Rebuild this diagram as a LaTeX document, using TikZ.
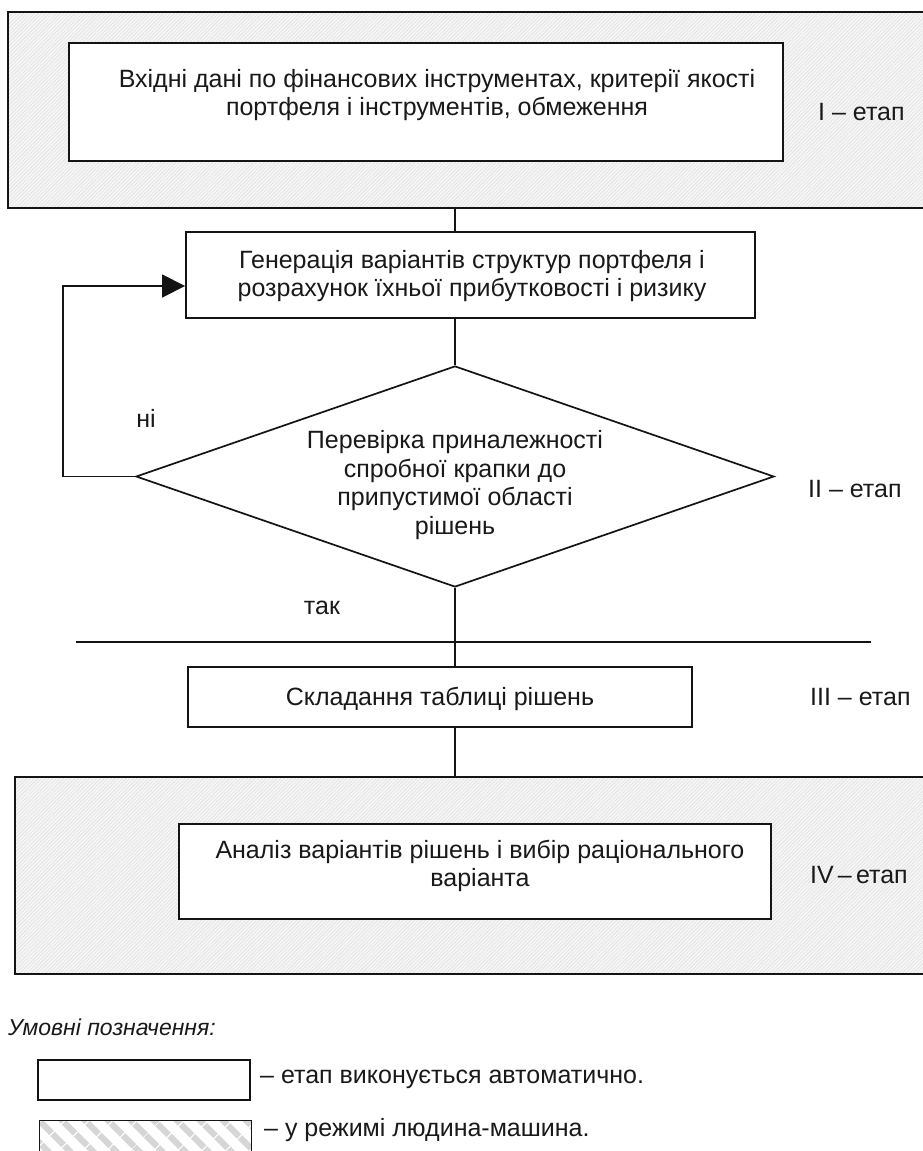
\documentclass[tikz,border=0pt]{standalone}
\usepackage{fontspec}
\setmainfont{Liberation Sans}
\usetikzlibrary{shapes.geometric,arrows.meta,patterns.meta}

\tikzset{
  every node/.style={font=\fontsize{25}{28.5}\selectfont, text=black!90},
  linecol/.style={draw=black!92},
  stagebox/.style={linecol, line width=2.2pt, rectangle, inner sep=0pt,
    preaction={fill=gray!7},
    pattern={Lines[angle=45,distance=2.6pt,line width=0.6pt]},
    pattern color=gray!24},
  procbox/.style={linecol, line width=1.9pt, rectangle, fill=white, inner sep=0pt},
  label/.style={align=center, inner sep=0pt},
  stagelabel/.style={anchor=west, inner sep=0pt},
  conn/.style={linecol, line width=1.7pt},
  legendhatch/.style={linecol, line width=1.6pt, rectangle, inner sep=0pt,
    preaction={fill=white},
    pattern={Lines[angle=-45,distance=17pt,line width=7pt]},
    pattern color=gray!32},
}

\begin{document}
\begin{tikzpicture}[x=1pt,y=-1pt]
\useasboundingbox (0,0) rectangle (922,1151);

% stage I: input data (human-machine)
\node[stagebox, minimum width=920pt, minimum height=196pt, anchor=north west] (st1) at (8,12) {};
\node[procbox, minimum width=714pt, minimum height=118pt] (b1) at (426,102) {};
\node[label] (t1) at (437,95) {Вхідні дані по фінансових інструментах, критерії якості\\портфеля і інструментів, обмеження};
\node[stagelabel] (s1) at (818,112) {I – етап};

% stage II: generation and check
\node[procbox, minimum width=569pt, minimum height=86pt] (b2) at (470.5,275) {};
\node[label] (t2) at (472,276) {Генерація варіантів структур портфеля і\\розрахунок їхньої прибутковості і ризику};

\node[diamond, linecol, line width=1.7pt, fill=white, inner sep=0pt,
      minimum width=638pt, minimum height=221pt] (chk) at (455,476.5) {};
\node[label] (t3) at (455,485) {Перевірка приналежності\\спробної крапки до\\припустимої області\\рішень};
\node[stagelabel] (s2) at (808,489) {II – етап};

\node[inner sep=0pt] (no) at (146,418) {ні};
\node[inner sep=0pt] (yes) at (322,608) {так};

% separator between stages II and III
\coordinate (hl) at (76,642);
\coordinate (hr) at (871,642);
\draw[conn] (hl) -- (hr);

% stage III
\node[procbox, minimum width=504pt, minimum height=60pt] (b3) at (440,697) {};
\node[label] (t4) at (440,699) {Складання таблиці рішень};
\node[stagelabel] (s3) at (810,697) {III – етап};

% stage IV (human-machine)
\node[stagebox, minimum width=914pt, minimum height=197pt, anchor=north west] (st4) at (14,776) {};
\node[procbox, minimum width=592pt, minimum height=95pt] (b4) at (475,871.5) {};
\node[label] (t5) at (480,866) {Аналіз варіантів рішень і вибір раціонального\\варіанта};
\node[stagelabel] (s4) at (810,875) {IV\,–\,етап};

% main axis connectors
\coordinate (ax) at (455,0);
\draw[conn] (st1.south -| ax) -- (b2.north -| ax);
\draw[conn] (b2.south -| ax) -- (chk.north);
\draw[conn] (chk.south) -- (b3.north -| ax);
\draw[conn] (b3.south -| ax) -- (st4.north -| ax);

% feedback loop "ні"
\coordinate (lp1) at (63,476.5);
\coordinate (lp2) at (63,286);
\draw[conn, -{Triangle[length=23pt,width=23pt]}] (chk.west) -- (lp1) -- (lp2) -- (lp2 -| b2.west);

% legend
\node[anchor=west, inner sep=0pt, font=\fontsize{23}{26}\selectfont\itshape] (lgt) at (8,1027) {Умовні позначення:};
\node[procbox, line width=1.6pt, minimum width=212pt, minimum height=40pt, anchor=north west] (lg1) at (37,1059) {};
\node[stagelabel] (lt1) at (260,1079) {– етап виконується автоматично.};
\node[legendhatch, minimum width=212pt, minimum height=44pt, anchor=north west] (lg2) at (36,1117) {};
\node[stagelabel] (lt2) at (264,1130) {– у режимі людина-машина.};
\end{tikzpicture}
\end{document}
